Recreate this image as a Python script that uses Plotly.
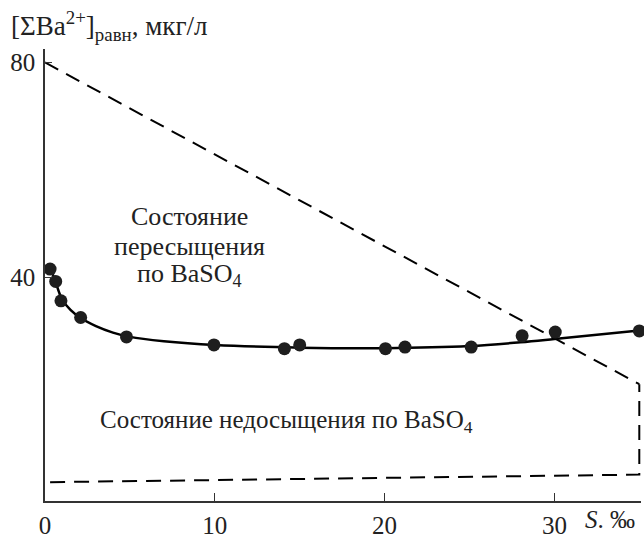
import plotly.graph_objects as go

# Measured points
pts_x = [0.3, 0.63, 0.94, 2.1, 4.8, 9.95, 14.1, 15.0, 20.05, 21.2, 25.1, 28.1, 30.05, 35.0]
pts_y = [41.6, 39.3, 35.7, 32.6, 29.0, 27.5, 26.8, 27.5, 26.8, 27.1, 27.1, 29.2, 29.9, 30.1]

# Fitted curve
curve_x = [0.3, 0.6, 1.0, 1.5, 2.1, 3.0, 4.0, 5.0, 7.0, 10.0, 15.0, 20.0, 25.0, 28.0, 30.0, 35.0]
curve_y = [42.0, 39.4, 36.0, 34.0, 32.5, 31.0, 29.8, 29.0, 28.2, 27.5, 27.0, 26.9, 27.3, 28.0, 28.6, 30.2]

# Boundary dashed lines
upper_x = [0.0, 35.0]
upper_y = [80.0, 20.2]
lower_x = [0.3, 35.0, 35.0]
lower_y = [2.0, 3.4, 20.2]

x_ticks = [0, 10, 20, 30]
y_ticks = [40, 80]

# Region label (three lines) and other texts
upper_lines = ["Состояние", "пересыщения", "по BaSO<sub>4</sub>"]
upper_line_y = [51.4, 45.8, 40.5]
lower_text = "Состояние недосыщения по BaSO<sub>4</sub>"
y_title = "[ΣBa<sup>2+</sup>]<sub>равн</sub>, мкг/л"
x_title = "<i>S</i>. ‰"

FONT = "'Liberation Serif', 'Times New Roman', serif"
dash = "15px,9px"
TXT = "#222"
FS = 25

fig = go.Figure()
fig.add_trace(go.Scatter(x=upper_x, y=upper_y, mode="lines",
                         line=dict(color="black", width=2, dash=dash),
                         hoverinfo="skip", showlegend=False))
fig.add_trace(go.Scatter(x=lower_x, y=lower_y, mode="lines",
                         line=dict(color="black", width=2, dash=dash),
                         hoverinfo="skip", showlegend=False))
fig.add_trace(go.Scatter(x=curve_x, y=curve_y, mode="lines",
                         line=dict(color="black", width=2.5, shape="spline", smoothing=1.0),
                         showlegend=False))
fig.add_trace(go.Scatter(x=pts_x, y=pts_y, mode="markers",
                         marker=dict(color="#1e1e1e", size=13),
                         cliponaxis=False, showlegend=False))

for txt, yy in zip(upper_lines, upper_line_y):
    fig.add_annotation(x=8.5, y=yy, xref="x", yref="y", text=txt, showarrow=False,
                       font=dict(family=FONT, size=26, color=TXT))
fig.add_annotation(x=14.2, y=13.2, xref="x", yref="y", text=lower_text,
                   showarrow=False, font=dict(family=FONT, size=FS, color=TXT))
fig.add_annotation(x=0, y=1, xref="paper", yref="paper", xanchor="left", yanchor="bottom",
                   xshift=-36, yshift=2, text=y_title,
                   showarrow=False, font=dict(family=FONT, size=27, color=TXT))
fig.add_annotation(x=33.3, y=0, xref="x", yref="paper", xanchor="center", yanchor="top",
                   yshift=-3, text=x_title,
                   showarrow=False, font=dict(family=FONT, size=FS, color=TXT))

fig.update_layout(
    width=644, height=542,
    margin=dict(l=45, r=3, t=49, b=29),
    plot_bgcolor="white", paper_bgcolor="white",
    font=dict(family=FONT, size=FS, color=TXT),
    xaxis=dict(range=[0, 35.1], tickvals=x_ticks, ticktext=[str(v) for v in x_ticks],
               ticks="inside", ticklen=8, tickcolor="#333", showgrid=False, zeroline=False,
               showline=True, linecolor="#333", linewidth=1.5, ticklabelstandoff=1),
    yaxis=dict(range=[-1.5, 82.5], tickvals=y_ticks, ticktext=[str(v) for v in y_ticks],
               ticks="inside", ticklen=7, tickcolor="#333", showgrid=False, zeroline=False,
               showline=True, linecolor="#333", linewidth=1.5, ticklabelstandoff=3),
)

fig.write_html("out.html", config={"displayModeBar": False},
               post_script="document.body.style.margin='0';document.body.style.overflow='hidden';")
